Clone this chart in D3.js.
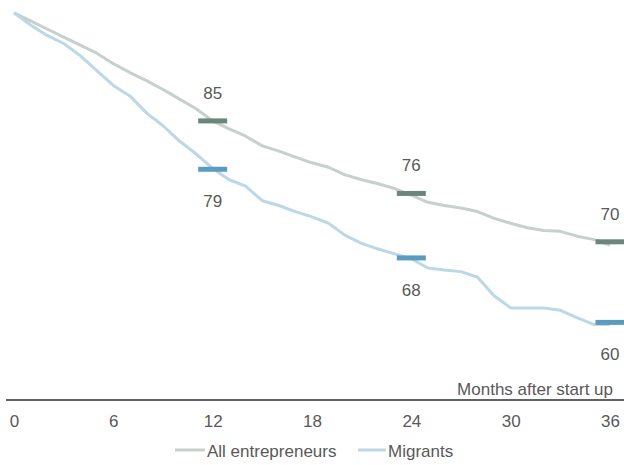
<!DOCTYPE html>
<html><head><meta charset="utf-8">
<script src="https://cdn.jsdelivr.net/npm/d3@7"></script>
<style>body{margin:0;background:#fff}svg{display:block}text{font-family:"Liberation Sans",Arial,sans-serif;fill:#595959}</style>
</head><body>
<script>
const months = d3.range(0, 37);
const allEntrepreneurs = [98.4,97.4,96.4,95.4,94.4,93.4,92.1,91.0,90.0,88.9,87.7,86.5,85.0,84.0,83.1,81.9,81.25,80.5,79.8,79.25,78.3,77.7,77.2,76.6,75.8,74.9,74.5,74.2,73.75,72.9,72.3,71.75,71.4,71.3,70.7,70.3,69.6];
const migrants = [98.4,96.9,95.6,94.6,93.1,91.25,89.4,88.1,86.0,84.4,82.5,80.9,79.1,77.7,76.9,75.1,74.5,73.75,73.1,72.3,70.8,69.8,69.1,68.5,67.9,66.75,66.5,66.3,65.6,63.3,61.8,61.8,61.8,61.5,60.6,59.75,59.75];
const markerMonths = [12, 24, 36];
const markerAll = [85, 76, 70];
const markerMig = [79, 68, 60];
const tickValues = [0, 6, 12, 18, 24, 30, 36];
const axisTitle = "Months after start up";
const seriesNames = ["All entrepreneurs", "Migrants"];

const W = 624, H = 465;
const svg = d3.select("body").append("svg").attr("width", W).attr("height", H);
const x = d3.scaleLinear().domain([0, 36]).range([14, 610]);
const y = d3.scaleLinear().domain([50, 100]).range([403, 0]);

const colGray = "#c7d0cb", colBlue = "#bcd7e6";
const mkGray = "#6d867b", mkBlue = "#5a9bc0";

// axis line
svg.append("line").attr("x1", 6).attr("x2", 624).attr("y1", 400).attr("y2", 400)
  .attr("stroke", "#5d6366").attr("stroke-width", 2);

// tick labels via axis
const axis = d3.axisBottom(x).tickValues(tickValues).tickSize(0).tickPadding(0);
const ag = svg.append("g").attr("transform", "translate(0,427)").call(axis);
ag.select(".domain").remove();
ag.selectAll("text").attr("dy", 0).attr("y", 0).style("font-size", "17px")
  .style("font-family", '"Liberation Sans",Arial,sans-serif').attr("fill", "#595959");

svg.append("text").attr("x", 613).attr("y", 395).attr("text-anchor", "end")
  .style("font-size", "17px").text(axisTitle);

const line = d3.line().x((d, i) => x(months[i])).y(d => y(d));
svg.append("path").datum(allEntrepreneurs).attr("d", line).attr("fill", "none")
  .attr("stroke", colGray).attr("stroke-width", 3).attr("stroke-linejoin", "round");
svg.append("path").datum(migrants).attr("d", line).attr("fill", "none")
  .attr("stroke", colBlue).attr("stroke-width", 3).attr("stroke-linejoin", "round");

// markers
const mw = 29, mh = 5;
markerMonths.forEach((m, i) => {
  svg.append("rect").attr("x", x(m) - mw / 2).attr("y", y(markerAll[i]) - mh / 2)
    .attr("width", mw).attr("height", mh).attr("fill", mkGray);
  svg.append("rect").attr("x", x(m) - mw / 2).attr("y", y(markerMig[i]) - mh / 2)
    .attr("width", mw).attr("height", mh).attr("fill", mkBlue);
  svg.append("text").attr("x", x(m)).attr("y", y(markerAll[i]) - 22).attr("text-anchor", "middle")
    .style("font-size", "17px").text(markerAll[i]);
  svg.append("text").attr("x", x(m)).attr("y", y(markerMig[i]) + 38).attr("text-anchor", "middle")
    .style("font-size", "17px").text(markerMig[i]);
});

// legend
const leg = [{c: colGray, x1: 175, x2: 205, tx: 207}, {c: colBlue, x1: 358, x2: 386, tx: 388}];
leg.forEach((l, i) => {
  svg.append("line").attr("x1", l.x1).attr("x2", l.x2).attr("y1", 450).attr("y2", 450)
    .attr("stroke", l.c).attr("stroke-width", 3);
  svg.append("text").attr("x", l.tx).attr("y", 457).style("font-size", "17px").text(seriesNames[i]);
});
</script>
</body></html>
